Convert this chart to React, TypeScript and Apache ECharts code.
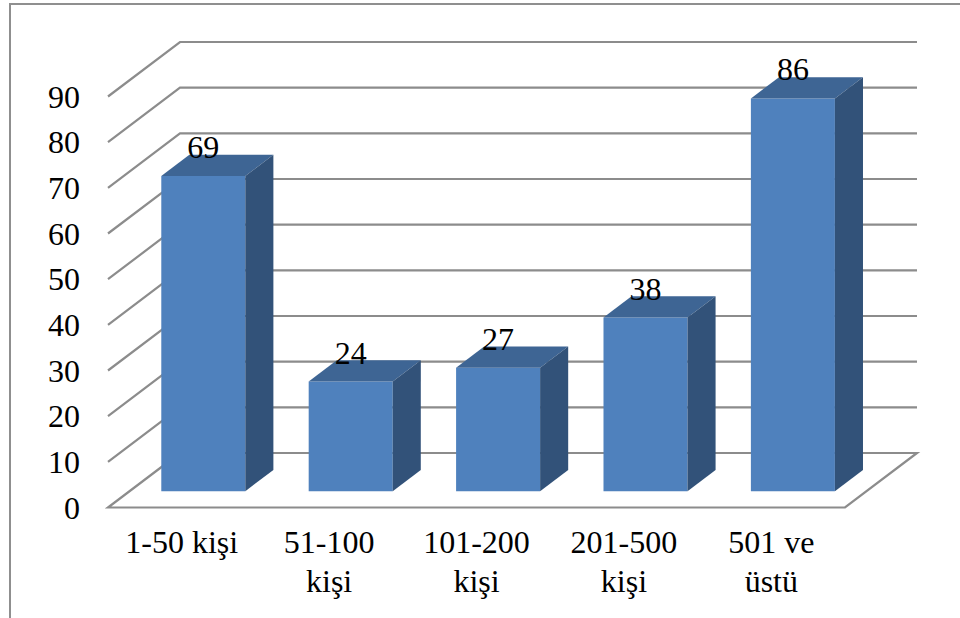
import React, { useEffect, useRef } from "react";
import * as echarts from "echarts";

// Survey counts per head-count bracket
const categories = ["1-50 kişi", "51-100\nkişi", "101-200\nkişi", "201-500\nkişi", "501 ve\nüstü"];
const values = [69, 24, 27, 38, 86];
const gridTicks = [0, 10, 20, 30, 40, 50, 60, 70, 80, 90];

const FONT = '"Liberation Serif", "Times New Roman", serif';
const LINE = "#8c8c8c";
const FRONT = "#4f81bd";
const TOP = "#3e6594";
const SIDE = "#325279";

// Oblique projection of the box: full floor depth, and where a bar sits within it
const DEPTH_X = 72;
const DEPTH_Y = -54.5;
const BAR_NEAR = 0.3;
const BAR_FAR = 0.69;
const BAR_WIDTH_RATIO = 0.57;

const renderWalls = (params: any, api: any) => {
  const tick = api.value(1);
  const y = api.coord([0, tick])[1];
  const left = params.coordSys.x;
  const right = left + params.coordSys.width;
  const points =
    tick === 0
      ? [
          [left + DEPTH_X, y + DEPTH_Y],
          [left, y],
          [right, y],
          [right + DEPTH_X, y + DEPTH_Y],
          [left + DEPTH_X, y + DEPTH_Y],
        ]
      : [
          [left, y],
          [left + DEPTH_X, y + DEPTH_Y],
          [right + DEPTH_X, y + DEPTH_Y],
        ];
  return {
    type: "polyline",
    shape: { points },
    style: { stroke: LINE, lineWidth: 2.2, fill: "none" },
    silent: true,
  };
};

const renderBar = (_params: any, api: any) => {
  const idx = api.value(0);
  const val = api.value(1);
  const [cx, y0] = api.coord([idx, 0]);
  const [, yTop] = api.coord([idx, val]);
  const halfW = (api.size([1, 0])[0] * BAR_WIDTH_RATIO) / 2;
  const nearX = DEPTH_X * BAR_NEAR;
  const nearY = DEPTH_Y * BAR_NEAR;
  const dx = DEPTH_X * (BAR_FAR - BAR_NEAR);
  const dy = DEPTH_Y * (BAR_FAR - BAR_NEAR);
  const l = cx + nearX - halfW;
  const r = cx + nearX + halfW;
  const b = y0 + nearY;
  const t = yTop + nearY;
  return {
    type: "group",
    children: [
      {
        type: "polygon",
        shape: { points: [[l, b], [r, b], [r, t], [l, t]] },
        style: { fill: FRONT },
      },
      {
        type: "polygon",
        shape: { points: [[l, t], [r, t], [r + dx, t + dy], [l + dx, t + dy]] },
        style: { fill: TOP },
      },
      {
        type: "polygon",
        shape: { points: [[r, b], [r + dx, b + dy], [r + dx, t + dy], [r, t]] },
        style: { fill: SIDE },
      },
      {
        type: "text",
        style: {
          text: String(val),
          x: cx + nearX,
          y: t - 29,
          textAlign: "center",
          textVerticalAlign: "middle",
          font: `32px ${FONT}`,
          fill: "#000",
        },
      },
    ],
  };
};

export default function App() {
  const ref = useRef<HTMLDivElement>(null);

  useEffect(() => {
    document.body.style.margin = "0";
    const chart = echarts.init(ref.current!, undefined, { renderer: "svg" });
    chart.setOption({
      animation: false,
      backgroundColor: "#fff",
      grid: { left: 108, top: 96.5, width: 737, height: 411 },
      xAxis: {
        type: "category",
        data: categories,
        axisLine: { show: false },
        axisTick: { show: false },
        axisLabel: {
          interval: 0,
          margin: 15,
          fontFamily: FONT,
          fontSize: 32,
          lineHeight: 39,
          color: "#000",
        },
      },
      yAxis: {
        type: "value",
        min: 0,
        max: 90,
        interval: 10,
        axisLine: { show: false },
        axisTick: { show: false },
        splitLine: { show: false },
        axisLabel: {
          margin: 28,
          fontFamily: FONT,
          fontSize: 32,
          color: "#000",
          padding: [0, 0, 8, 0],
        },
      },
      graphic: [
        {
          type: "polyline",
          shape: { points: [[10, 618], [10, 4], [960, 4]] },
          style: { stroke: "#8f8f8f", lineWidth: 2, fill: "none" },
          silent: true,
        },
      ],
      series: [
        {
          type: "custom",
          coordinateSystem: "cartesian2d",
          data: gridTicks.map((t) => [0, t]),
          encode: { x: 0, y: 1 },
          renderItem: renderWalls,
          silent: true,
          z: 1,
        },
        {
          type: "custom",
          coordinateSystem: "cartesian2d",
          data: values.map((v, i) => [i, v]),
          encode: { x: 0, y: 1 },
          renderItem: renderBar,
          silent: true,
          z: 2,
        },
      ],
    });
    return () => chart.dispose();
  }, []);

  return <div ref={ref} style={{ width: 960, height: 618 }} />;
}
